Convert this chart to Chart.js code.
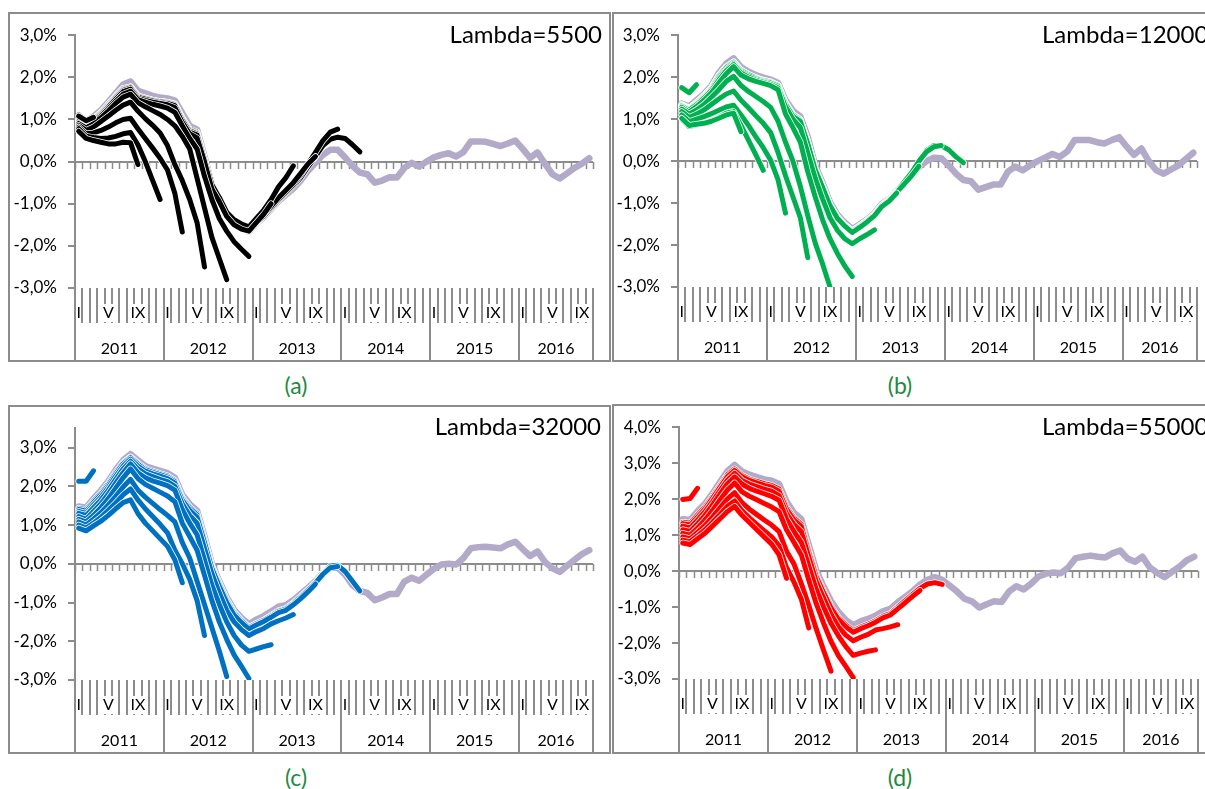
<!DOCTYPE html>
<html><head><meta charset="utf-8">
<script src="https://cdn.jsdelivr.net/npm/chart.js@4.4.1/dist/chart.umd.min.js"></script>
<style>
html,body{margin:0;padding:0;background:#fff}
body{position:relative;width:1205px;height:789px;overflow:hidden;font-family:Lato,"Open Sans",sans-serif}
.box{position:absolute;box-sizing:border-box;border:2px solid #8c8c8c;background:#fff}
.box canvas{position:absolute;left:0;top:0}
.lam{position:absolute;font-size:24px;line-height:24px;color:#000;white-space:nowrap}
.cap{position:absolute;font-size:23px;line-height:23px;color:#1f8a3e;transform:translate(-50%,-50%)}
</style></head><body>
<script>
// ---------- categories / tick labels ----------
const years = ['2011','2012','2013','2014','2015','2016'];
const monthsPerYear = [12,12,12,12,12,10];
const romanMonths = ['I','II','III','IV','V','VI','VII','VIII','IX','X','XI','XII'];
const shownMonths = ['I','V','IX'];
const categories = [];
years.forEach((y,k)=>{ for(let m=0;m<monthsPerYear[k];m++) categories.push(romanMonths[m]+' '+y); });

// ---------- Panel (a) Lambda=5500 ----------
const finalA = [1.1,0.95,1.07,1.22,1.41,1.62,1.83,1.9,1.68,1.62,1.56,1.52,1.5,1.45,1.15,0.85,0.76,0.12,-0.55,-0.9,-1.24,-1.43,-1.55,-1.66,-1.47,-1.32,-1.13,-0.94,-0.79,-0.64,-0.45,-0.22,-0.03,0.16,0.28,0.28,0.1,-0.1,-0.26,-0.3,-0.5,-0.45,-0.37,-0.38,-0.15,-0.03,-0.12,0.0,0.1,0.16,0.2,0.12,0.23,0.48,0.48,0.47,0.42,0.37,0.43,0.5,0.3,0.09,0.22,-0.05,-0.3,-0.4,-0.28,-0.15,-0.05,0.08];
const a_mar11 = [1.08,0.97,1.05];
const a_sep11 = [0.72,0.55,0.5,0.46,0.42,0.42,0.46,0.45,-0.07];
const a_dec11 = [0.78,0.6,0.57,0.55,0.56,0.6,0.66,0.69,0.4,0.0,-0.45,-0.9];
const a_mar12 = [0.82,0.66,0.68,0.74,0.82,0.92,1.0,1.03,0.78,0.55,0.32,0.08,-0.2,-0.76,-1.67];
const a_jun12 = [0.86,0.74,0.82,0.95,1.08,1.22,1.34,1.41,1.2,1.02,0.86,0.68,0.38,-0.07,-0.45,-0.9,-1.45,-2.5];
const a_sep12 = [0.9,0.8,0.9,1.04,1.2,1.38,1.53,1.6,1.4,1.3,1.21,1.12,1.0,0.85,0.6,0.3,-0.4,-1.1,-1.8,-2.3,-2.8];
const a_dec12 = [0.92,0.84,0.94,1.08,1.25,1.43,1.6,1.67,1.47,1.41,1.36,1.32,1.27,1.17,0.85,0.55,0.3,-0.35,-0.9,-1.35,-1.65,-1.9,-2.08,-2.25];
const a_mar13 = [0.95,0.86,0.96,1.11,1.29,1.48,1.66,1.72,1.5,1.45,1.41,1.38,1.35,1.28,0.93,0.66,0.56,0.0,-0.65,-0.95,-1.3,-1.5,-1.6,-1.65,-1.45,-1.25,-1.0];
const a_jun13 = [0.97,0.88,0.98,1.13,1.31,1.51,1.69,1.75,1.53,1.48,1.44,1.4,1.38,1.33,0.98,0.7,0.63,0.05,-0.55,-0.85,-1.2,-1.38,-1.48,-1.55,-1.35,-1.15,-0.9,-0.6,-0.38,-0.1];
const a_sep13 = [0.99,0.9,1.0,1.15,1.33,1.53,1.71,1.77,1.55,1.5,1.45,1.42,1.4,1.35,1.0,0.73,0.66,0.05,-0.6,-0.9,-1.25,-1.42,-1.52,-1.6,-1.42,-1.26,-1.06,-0.86,-0.68,-0.5,-0.28,-0.05,0.12];
const a_dec13 = [1.0,0.91,1.01,1.16,1.35,1.55,1.73,1.78,1.56,1.51,1.46,1.43,1.41,1.36,1.02,0.75,0.68,0.05,-0.62,-0.92,-1.27,-1.45,-1.55,-1.62,-1.45,-1.3,-1.1,-0.9,-0.72,-0.55,-0.32,-0.05,0.22,0.5,0.7,0.77];
const a_mar14 = [1.02,0.92,1.02,1.17,1.36,1.56,1.74,1.76,1.55,1.5,1.46,1.43,1.41,1.37,1.04,0.77,0.7,0.06,-0.62,-0.93,-1.28,-1.46,-1.57,-1.66,-1.47,-1.3,-1.12,-0.92,-0.75,-0.58,-0.38,-0.12,0.12,0.38,0.53,0.58,0.55,0.4,0.23];

// ---------- Panel (b) Lambda=12000 ----------
const finalB = [1.37,1.3,1.45,1.6,1.79,2.1,2.32,2.45,2.24,2.13,2.05,1.99,1.94,1.86,1.45,1.2,1.06,0.58,-0.1,-0.52,-0.98,-1.28,-1.47,-1.62,-1.51,-1.39,-1.24,-1.02,-0.9,-0.71,-0.52,-0.33,-0.14,0.0,0.08,0.07,-0.1,-0.3,-0.45,-0.48,-0.68,-0.62,-0.56,-0.56,-0.25,-0.13,-0.22,-0.1,0.0,0.08,0.17,0.1,0.23,0.5,0.5,0.5,0.45,0.42,0.5,0.57,0.35,0.15,0.3,0.0,-0.22,-0.3,-0.2,-0.1,0.05,0.2];
const b_mar11 = [1.75,1.63,1.82];
const b_sep11 = [1.02,0.85,0.88,0.9,0.95,1.02,1.1,1.14,0.7];
const b_dec11 = [1.0,0.82,0.87,0.9,0.96,1.04,1.14,1.18,0.85,0.5,0.15,-0.22];
const b_mar12 = [1.1,0.94,1.0,1.06,1.13,1.21,1.29,1.33,1.1,0.85,0.58,0.32,0.02,-0.45,-1.24];
const b_jun12 = [1.18,1.04,1.12,1.22,1.35,1.48,1.6,1.67,1.45,1.27,1.08,0.9,0.68,0.2,-0.35,-0.85,-1.35,-2.3];
const b_sep12 = [1.24,1.12,1.22,1.35,1.52,1.7,1.9,2.02,1.8,1.66,1.54,1.42,1.28,0.95,0.45,0.0,-0.6,-1.3,-1.95,-2.45,-3.0];
const b_dec12 = [1.28,1.17,1.3,1.45,1.63,1.86,2.08,2.25,2.05,1.96,1.9,1.85,1.8,1.7,1.12,0.8,0.45,-0.25,-0.85,-1.4,-1.85,-2.2,-2.5,-2.75];
const b_mar13 = [1.31,1.21,1.34,1.5,1.68,1.93,2.15,2.3,2.1,2.0,1.93,1.88,1.83,1.75,1.3,1.0,0.8,0.2,-0.4,-0.9,-1.35,-1.65,-1.85,-1.97,-1.85,-1.75,-1.64];
const b_jun13 = [1.32,1.23,1.36,1.52,1.71,1.98,2.18,2.33,2.13,2.03,1.96,1.9,1.86,1.78,1.36,1.07,0.95,0.42,-0.2,-0.62,-1.06,-1.36,-1.55,-1.7,-1.58,-1.45,-1.3,-1.08,-0.95,-0.76];
const b_sep13 = [1.33,1.24,1.38,1.54,1.73,2.02,2.22,2.36,2.16,2.06,1.98,1.92,1.88,1.8,1.38,1.1,0.98,0.45,-0.18,-0.6,-1.05,-1.34,-1.53,-1.68,-1.56,-1.43,-1.28,-1.06,-0.93,-0.74,-0.55,-0.35,-0.12];
const b_dec13 = [1.34,1.25,1.39,1.55,1.74,2.03,2.24,2.37,2.17,2.07,1.99,1.93,1.89,1.81,1.39,1.11,0.99,0.47,-0.17,-0.58,-1.04,-1.33,-1.52,-1.67,-1.55,-1.42,-1.27,-1.05,-0.92,-0.73,-0.5,-0.28,0.0,0.22,0.34,0.37];
const b_mar14 = [1.35,1.26,1.4,1.56,1.75,2.04,2.25,2.36,2.16,2.06,1.98,1.92,1.88,1.8,1.38,1.1,0.98,0.46,-0.18,-0.58,-1.04,-1.33,-1.52,-1.66,-1.54,-1.41,-1.26,-1.04,-0.91,-0.72,-0.5,-0.3,-0.03,0.25,0.37,0.37,0.27,0.1,-0.04];

// ---------- Panel (c) Lambda=32000 ----------
const finalC = [1.48,1.45,1.68,1.89,2.13,2.42,2.67,2.83,2.67,2.52,2.46,2.4,2.34,2.22,1.78,1.54,1.37,0.7,0.0,-0.45,-0.86,-1.19,-1.4,-1.56,-1.44,-1.35,-1.23,-1.11,-1.07,-0.94,-0.78,-0.62,-0.45,-0.25,-0.1,-0.1,-0.28,-0.55,-0.7,-0.75,-0.94,-0.87,-0.78,-0.78,-0.46,-0.36,-0.44,-0.28,-0.13,-0.02,0.0,-0.02,0.15,0.4,0.43,0.44,0.42,0.4,0.5,0.57,0.38,0.2,0.32,0.05,-0.12,-0.21,-0.05,0.1,0.25,0.35];
const c_mar11 = [2.13,2.13,2.4];
const c_mar12 = [0.92,0.85,0.98,1.1,1.25,1.42,1.58,1.65,1.3,1.05,0.85,0.65,0.45,0.1,-0.49];
const c_jun12 = [1.0,0.92,1.05,1.2,1.38,1.57,1.78,1.93,1.65,1.42,1.22,1.02,0.8,0.35,0.0,-0.4,-0.95,-1.85];
const c_sep12 = [1.08,1.0,1.15,1.32,1.52,1.74,1.98,2.18,1.9,1.72,1.56,1.4,1.25,1.08,0.55,0.15,-0.45,-1.05,-1.65,-2.25,-2.91];
const c_dec12 = [1.15,1.08,1.25,1.45,1.68,1.95,2.22,2.45,2.2,2.05,1.95,1.85,1.75,1.6,1.05,0.7,0.35,-0.3,-0.95,-1.5,-1.95,-2.35,-2.65,-2.96];
const c_mar13 = [1.22,1.15,1.35,1.55,1.8,2.08,2.35,2.58,2.35,2.22,2.14,2.08,2.02,1.9,1.4,1.05,0.75,0.1,-0.55,-1.05,-1.5,-1.85,-2.1,-2.26,-2.2,-2.14,-2.09];
const c_jun13 = [1.3,1.25,1.45,1.65,1.9,2.18,2.45,2.65,2.45,2.32,2.25,2.18,2.12,2.0,1.55,1.25,1.05,0.4,-0.25,-0.75,-1.2,-1.5,-1.7,-1.85,-1.75,-1.67,-1.55,-1.47,-1.4,-1.31];
const c_sep13 = [1.35,1.3,1.52,1.72,1.97,2.26,2.52,2.7,2.52,2.39,2.32,2.26,2.2,2.08,1.64,1.38,1.2,0.55,-0.12,-0.58,-1.0,-1.32,-1.52,-1.68,-1.58,-1.49,-1.38,-1.26,-1.2,-1.06,-0.9,-0.72,-0.52];
const c_dec13 = [1.4,1.36,1.58,1.78,2.03,2.32,2.58,2.74,2.57,2.43,2.36,2.3,2.24,2.12,1.68,1.43,1.26,0.6,-0.08,-0.53,-0.95,-1.28,-1.48,-1.65,-1.55,-1.46,-1.35,-1.23,-1.17,-1.03,-0.86,-0.68,-0.49,-0.27,-0.1,-0.07];
const c_mar14 = [1.43,1.4,1.62,1.82,2.07,2.36,2.61,2.76,2.6,2.46,2.39,2.33,2.27,2.15,1.71,1.46,1.3,0.63,-0.05,-0.5,-0.92,-1.25,-1.46,-1.64,-1.54,-1.45,-1.33,-1.21,-1.15,-1.01,-0.84,-0.67,-0.48,-0.26,-0.06,-0.04,-0.2,-0.45,-0.7];

// ---------- Panel (d) Lambda=55000 ----------
const finalD = [1.44,1.42,1.66,1.87,2.15,2.46,2.77,2.95,2.77,2.68,2.61,2.55,2.51,2.42,1.93,1.62,1.44,0.73,0.02,-0.43,-0.83,-1.14,-1.36,-1.51,-1.4,-1.33,-1.24,-1.12,-1.05,-0.87,-0.72,-0.56,-0.38,-0.24,-0.17,-0.24,-0.4,-0.57,-0.77,-0.84,-1.01,-0.92,-0.84,-0.86,-0.57,-0.42,-0.51,-0.35,-0.15,-0.07,-0.04,-0.06,0.1,0.36,0.4,0.43,0.4,0.38,0.5,0.57,0.35,0.26,0.4,0.1,-0.05,-0.17,-0.02,0.12,0.3,0.4];
const d_mar11 = [1.99,2.02,2.3];
const d_mar12 = [0.78,0.74,0.9,1.05,1.25,1.45,1.65,1.8,1.55,1.35,1.15,0.95,0.75,0.45,-0.2];
const d_jun12 = [0.86,0.82,0.98,1.15,1.35,1.57,1.8,1.95,1.68,1.48,1.3,1.12,0.95,0.7,0.1,-0.3,-0.78,-1.58];
const d_sep12 = [0.95,0.9,1.08,1.27,1.5,1.75,2.0,2.18,1.9,1.72,1.57,1.42,1.28,1.1,0.55,0.2,-0.35,-0.95,-1.6,-2.2,-2.78];
const d_dec12 = [1.05,1.0,1.2,1.42,1.68,1.97,2.25,2.45,2.2,2.08,1.98,1.88,1.78,1.65,1.15,0.8,0.45,-0.25,-0.9,-1.45,-1.95,-2.35,-2.65,-2.96];
const d_mar13 = [1.15,1.1,1.32,1.55,1.83,2.13,2.42,2.62,2.42,2.3,2.22,2.15,2.08,1.97,1.45,1.1,0.8,0.15,-0.5,-1.0,-1.45,-1.8,-2.1,-2.34,-2.28,-2.23,-2.19];
const d_jun13 = [1.25,1.2,1.42,1.65,1.93,2.23,2.52,2.72,2.52,2.42,2.35,2.28,2.22,2.1,1.6,1.3,1.1,0.4,-0.28,-0.75,-1.2,-1.55,-1.78,-1.94,-1.84,-1.76,-1.64,-1.6,-1.55,-1.49];
const d_sep13 = [1.32,1.28,1.5,1.73,2.02,2.32,2.62,2.8,2.62,2.52,2.45,2.38,2.33,2.22,1.72,1.42,1.24,0.52,-0.15,-0.6,-1.02,-1.34,-1.55,-1.7,-1.6,-1.52,-1.42,-1.3,-1.22,-1.05,-0.88,-0.7,-0.54];
const d_dec13 = [1.36,1.33,1.56,1.78,2.07,2.37,2.67,2.84,2.66,2.56,2.49,2.43,2.38,2.28,1.78,1.48,1.3,0.58,-0.1,-0.55,-0.97,-1.29,-1.5,-1.66,-1.56,-1.48,-1.38,-1.26,-1.18,-1.0,-0.82,-0.65,-0.48,-0.36,-0.32,-0.37];

// ---------- styles ----------
const GRAY = '#8c8c8c';
const TXT = '#000000';
const LAV = '#b3a9c8';
const FONT = 'Lato, "Open Sans", sans-serif';
const fmt = v => v.toFixed(1).replace('.', ',') + '%';

const panels = [
  {color:'#000000', final:finalA, vint:[a_mar11,a_sep11,a_dec11,a_mar12,a_jun12,a_sep12,a_dec12,a_mar13,a_jun13,a_sep13,a_dec13,a_mar14],
   ymin:-3, ymax:3, box:{l:8,t:12,w:603,h:350}, area:{l:75,r:593,t:25,b:288}},
  {color:'#00b050', final:finalB, vint:[b_mar11,b_sep11,b_dec11,b_mar12,b_jun12,b_sep12,b_dec12,b_mar13,b_jun13,b_sep13,b_dec13,b_mar14],
   ymin:-3, ymax:3, box:{l:612,t:12,w:620,h:350}, area:{l:678,r:1197,t:25,b:287}},
  {color:'#0070c0', final:finalC, vint:[c_mar11,c_mar12,c_jun12,c_sep12,c_dec12,c_mar13,c_jun13,c_sep13,c_dec13,c_mar14],
   ymin:-3, ymax:3.5, box:{l:8,t:405,w:603,h:349}, area:{l:75,r:593,t:417,b:680}},
  {color:'#ff0000', final:finalD, vint:[d_mar11,d_mar12,d_jun12,d_sep12,d_dec12,d_mar13,d_jun13,d_sep13,d_dec13],
   ymin:-3, ymax:4, box:{l:612,t:404,w:620,h:350}, area:{l:679,r:1198,t:417,b:679}}
];

// zero line with minor ticks + two-level category axis
const catAxisPlugin = {
  id: 'catAxis',
  beforeDatasetsDraw(chart) {
    const {ctx, chartArea: a, scales: {x, y}} = chart;
    const y0 = Math.round(y.getPixelForValue(0));
    ctx.save();
    ctx.strokeStyle = GRAY;
    ctx.lineWidth = 2;
    ctx.beginPath(); ctx.moveTo(a.left, y0); ctx.lineTo(a.right, y0); ctx.stroke();
    ctx.lineWidth = 1.5;
    ctx.beginPath();
    for (let k = 0; k <= categories.length; k++) {
      const bx = Math.round(x.getPixelForValue(k - 0.5)) + 0.5;
      ctx.moveTo(bx, y0); ctx.lineTo(bx, y0 + 7);
    }
    ctx.stroke();
    ctx.restore();
  },
  afterDraw(chart) {
    const {ctx, chartArea: a, scales: {x}} = chart;
    const H = chart.height, b = a.bottom;
    const yearBounds = [0];
    let acc = 0;
    monthsPerYear.forEach(n => { acc += n; yearBounds.push(acc); });
    ctx.save();
    ctx.strokeStyle = GRAY; ctx.lineWidth = 2;
    ctx.beginPath();
    for (let k = 0; k <= categories.length; k++) {
      const bx = Math.round(x.getPixelForValue(k - 0.5));
      ctx.moveTo(bx, b); ctx.lineTo(bx, b + 35);
    }
    yearBounds.forEach(k => {
      const bx = Math.round(x.getPixelForValue(k - 0.5));
      ctx.moveTo(bx, b); ctx.lineTo(bx, H);
    });
    ctx.stroke();
    ctx.font = '16px ' + FONT;
    ctx.textAlign = 'center'; ctx.textBaseline = 'middle';
    let idx = 0;
    years.forEach((yr, k) => {
      for (let m = 0; m < monthsPerYear[k]; m++, idx++) {
        const lab = romanMonths[m];
        if (!shownMonths.includes(lab)) continue;
        const cx = x.getPixelForValue(idx);
        const w = ctx.measureText(lab).width;
        ctx.fillStyle = '#fff';
        ctx.fillRect(cx - w / 2, b + 16, w, 18);
        ctx.fillStyle = TXT;
        ctx.fillText(lab, cx, b + 25);
      }
    });
    years.forEach((yr, k) => {
      const x1 = x.getPixelForValue(yearBounds[k] - 0.5), x2 = x.getPixelForValue(yearBounds[k + 1] - 0.5);
      ctx.fillText(yr, (x1 + x2) / 2, b + 61);
    });
    ctx.restore();
  }
};

// thin white outline under each estimate line
const haloPlugin = {
  id: 'halo',
  beforeDatasetDraw(chart, args) {
    const ds = chart.data.datasets[args.index];
    if (!ds.halo) return;
    const pts = args.meta.data;
    const {ctx, chartArea: a} = chart;
    ctx.save();
    ctx.beginPath(); ctx.rect(a.left, a.top, a.right - a.left, a.bottom - a.top); ctx.clip();
    ctx.beginPath();
    pts.forEach((p, i) => i ? ctx.lineTo(p.x, p.y) : ctx.moveTo(p.x, p.y));
    ctx.lineWidth = ds.borderWidth + 1.5;
    ctx.strokeStyle = '#ffffff';
    ctx.lineJoin = 'round'; ctx.lineCap = 'round';
    ctx.stroke();
    ctx.restore();
  }
};

function makeChart(p) {
  const box = document.createElement('div');
  box.className = 'box';
  Object.assign(box.style, {left: p.box.l + 'px', top: p.box.t + 'px', width: p.box.w + 'px', height: p.box.h + 'px'});
  const cw = p.box.w - 4, ch = p.box.h - 4;
  const cv = document.createElement('canvas');
  cv.width = cw; cv.height = ch; cv.style.width = cw + 'px'; cv.style.height = ch + 'px';
  box.appendChild(cv);
  document.body.insertBefore(box, document.body.firstChild);
  const ox = p.box.l + 2, oy = p.box.t + 2;
  const datasets = p.vint.map(v => ({data: v, borderColor: p.color, borderWidth: 5, halo: true, order: 0}));
  datasets.push({data: p.final, borderColor: LAV, borderWidth: 6.5, order: 1});
  new Chart(cv, {
    type: 'line',
    data: {labels: categories, datasets},
    options: {
      responsive: false, animation: false, devicePixelRatio: 1,
      layout: {padding: {left: 0, top: p.area.t - oy, right: ox + cw - p.area.r, bottom: oy + ch - p.area.b}},
      elements: {point: {radius: 0}, line: {tension: 0, borderJoinStyle: 'round', borderCapStyle: 'round', fill: false}},
      plugins: {legend: {display: false}, tooltip: {enabled: false}},
      scales: {
        x: {type: 'category', offset: true, display: false},
        y: {
          min: p.ymin, max: p.ymax,
          afterFit: s => { s.width = p.area.l - ox; },
          afterBuildTicks: s => { s.ticks = s.ticks.filter(t => Number.isInteger(Math.round(t.value * 1000) / 1000)); },
          ticks: {stepSize: 1, padding: 11, color: TXT, font: {family: FONT, size: 17}, callback: v => fmt(v)},
          grid: {drawOnChartArea: false, drawTicks: true, tickLength: 7, color: GRAY, lineWidth: 2},
          border: {display: true, color: GRAY, width: 2}
        }
      }
    },
    plugins: [catAxisPlugin, haloPlugin]
  });
}
panels.slice().reverse().forEach(makeChart);
</script>
<div class="lam" style="right:603px;top:22px">Lambda=5500</div>
<div class="lam" style="left:1042px;top:22px">Lambda=12000</div>
<div class="lam" style="right:604px;top:414px">Lambda=32000</div>
<div class="lam" style="left:1042px;top:414px">Lambda=55000</div>
<div class="cap" style="left:296px;top:385px">(a)</div>
<div class="cap" style="left:900px;top:385px">(b)</div>
<div class="cap" style="left:296px;top:777px">(c)</div>
<div class="cap" style="left:900px;top:777px">(d)</div>
</body></html>
